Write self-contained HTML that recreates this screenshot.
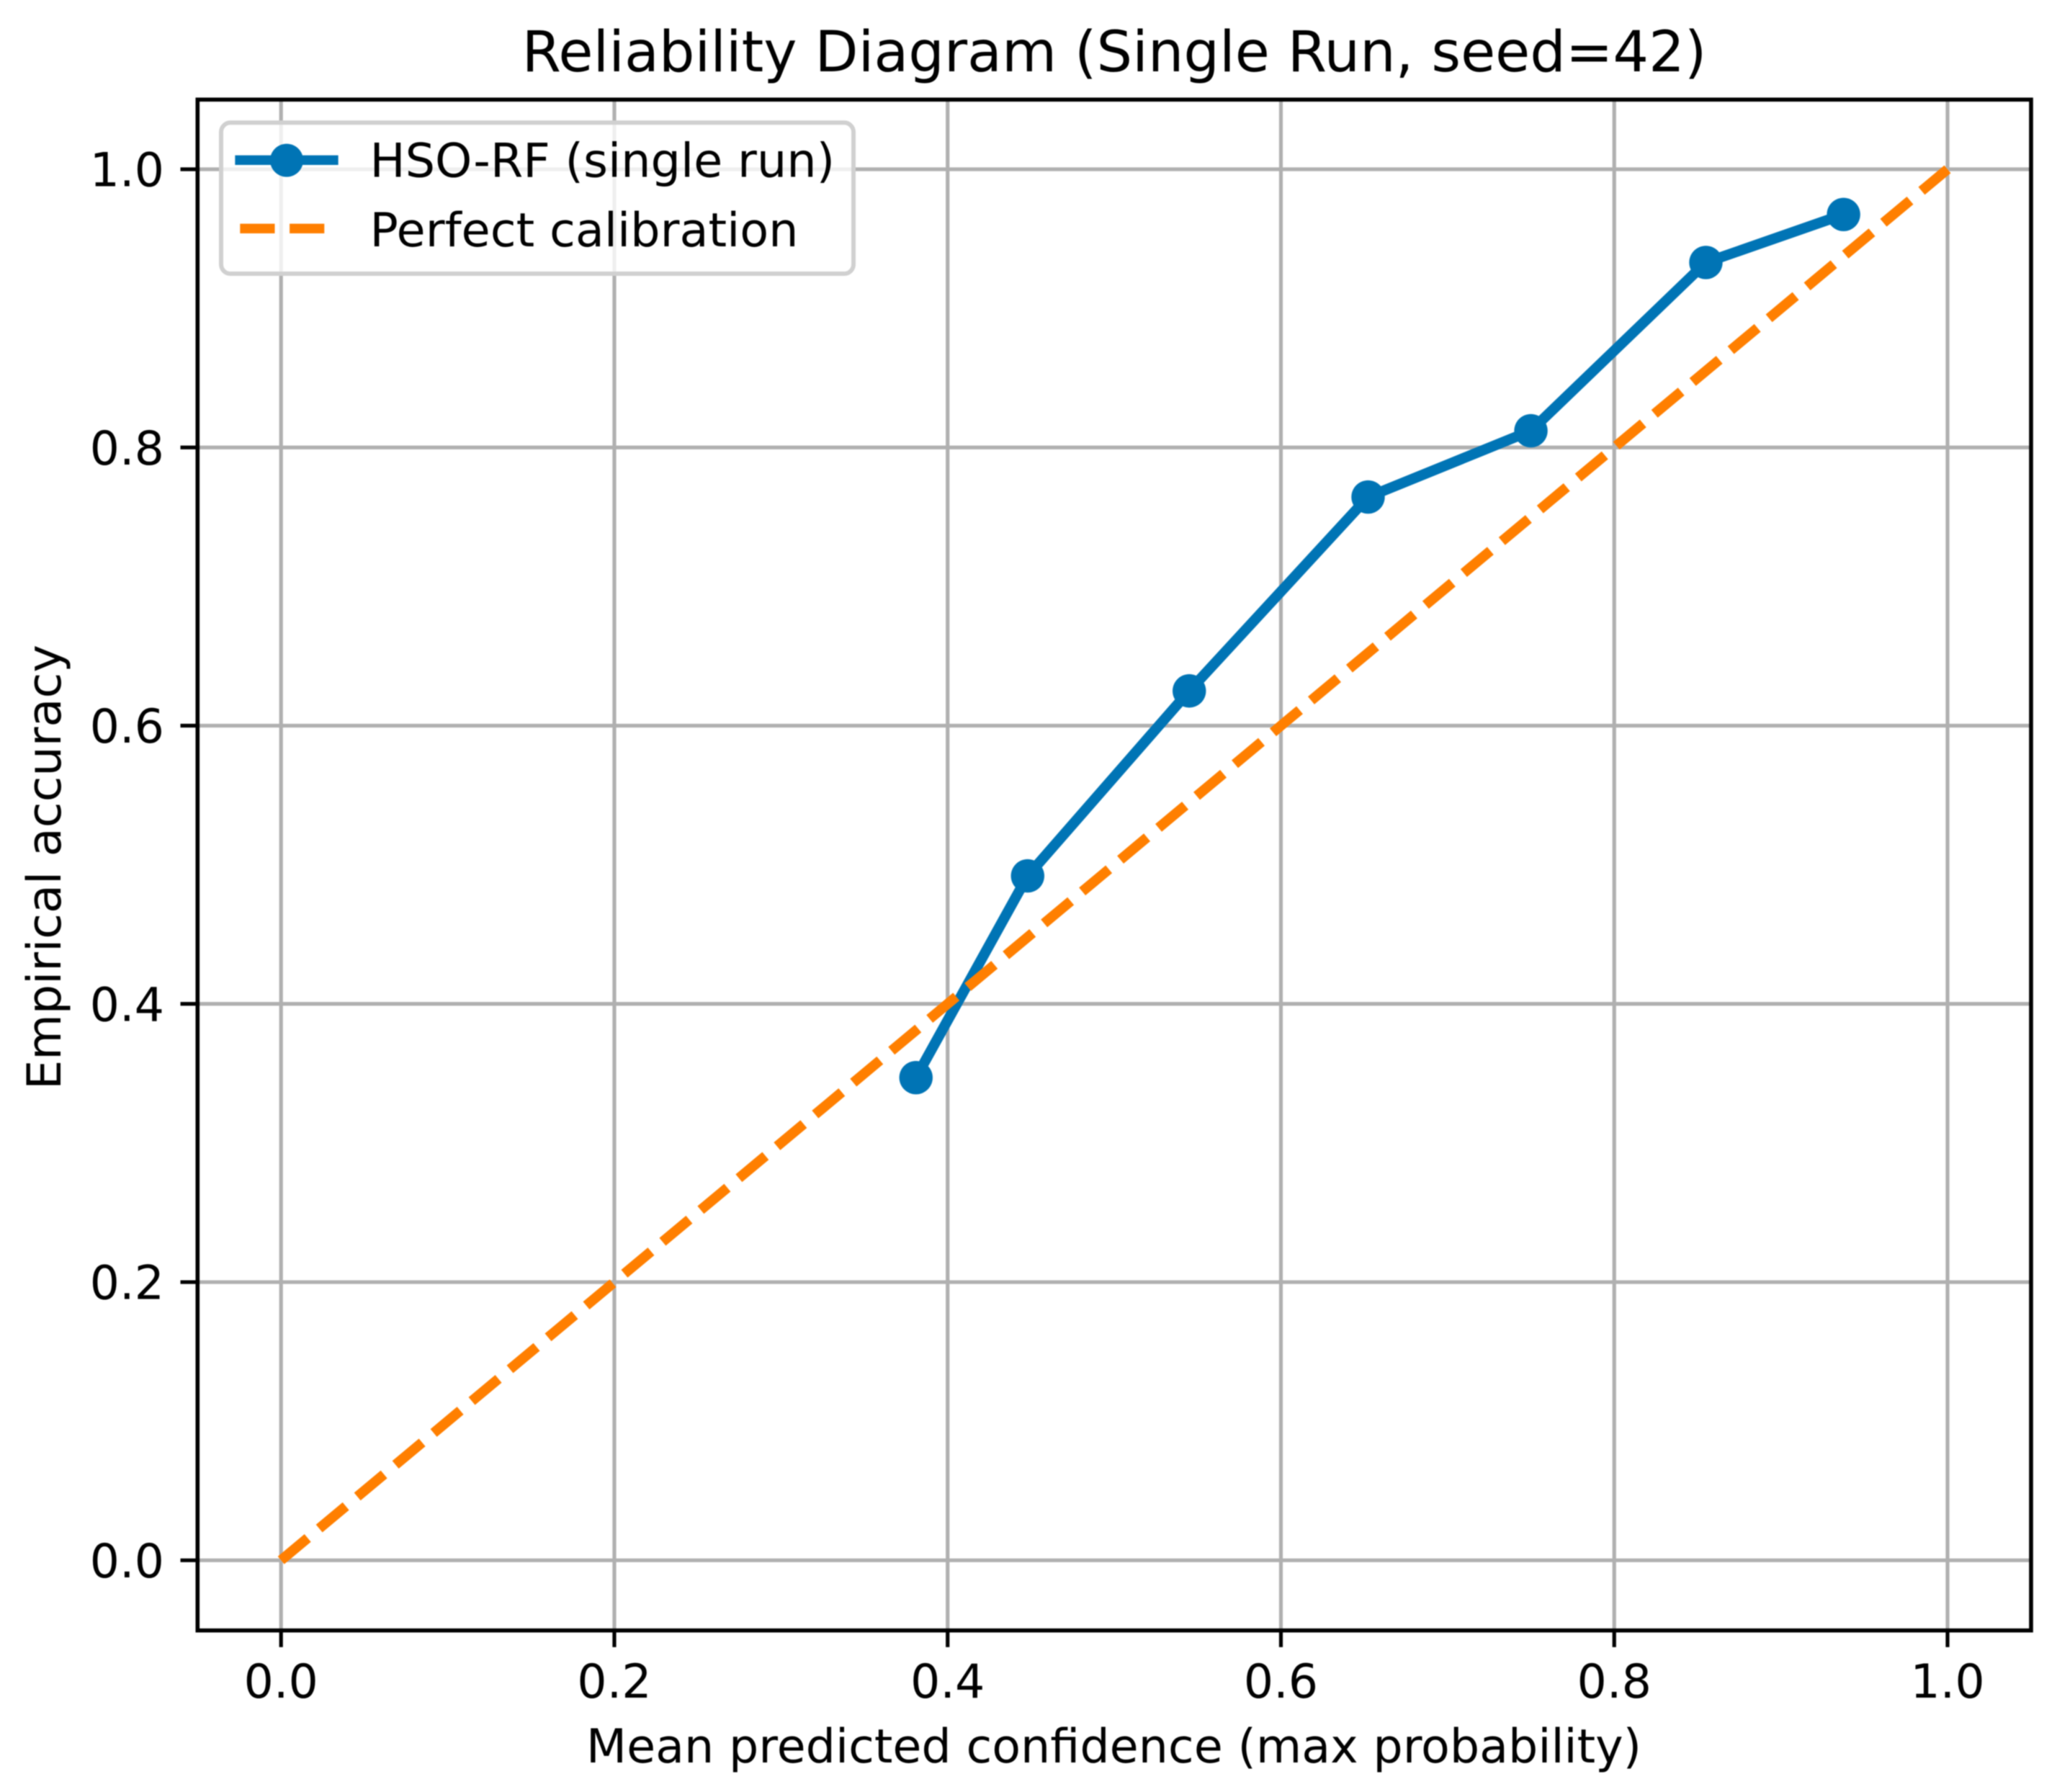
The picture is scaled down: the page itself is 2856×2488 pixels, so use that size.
<!DOCTYPE html>
<html lang="en">
<head>
<meta charset="utf-8">
<title>Reliability Diagram (Single Run, seed=42)</title>
<style>
html,body{margin:0;padding:0;background:#fff;}
svg{display:block;filter:blur(0.9px);}
text{font-family:"DejaVu Sans","Liberation Sans",sans-serif;fill:#000;}
</style>
</head>
<body>
<svg id="chart" xmlns="http://www.w3.org/2000/svg" width="2856" height="2488" viewBox="0 0 2856 2488">
  <rect x="0" y="0" width="2856" height="2488" fill="#fff"/>
  <rect x="274.3" y="138.3" width="2545.7" height="2125.4" fill="#fff"/>
  <g id="grid"></g>
  <g id="series"></g>
  <rect x="274.3" y="138.3" width="2545.7" height="2125.4" fill="none" stroke="#000" stroke-width="5.6"/>
  <g id="ticks"></g>
  <text x="1547" y="99" font-size="78.2" text-anchor="middle">Reliability Diagram (Single Run, seed=42)</text>
  <text x="1546.5" y="2447" font-size="65.1" text-anchor="middle">Mean predicted confidence (max probability)</text>
  <text x="0" y="0" font-size="65.2" text-anchor="middle" transform="translate(84 1204) rotate(-90)">Empirical accuracy</text>
  <g>
    <rect x="307" y="170.3" width="878" height="209.7" rx="13" ry="13" fill="#fff" fill-opacity="0.8" stroke="#d0d0d0" stroke-width="6"/>
    <g>
      <line x1="333" y1="222.3" x2="463" y2="222.3" stroke="#0074b5" stroke-width="13.3" stroke-linecap="square"/>
      <circle cx="398" cy="222.6" r="23" fill="#0074b5"/>
      <text x="513.5" y="245.5" font-size="65.3">HSO-RF (single run)</text>
    </g>
    <g>
      <line x1="333.3" y1="317.3" x2="463" y2="317.3" stroke="#ff7f00" stroke-width="13.3" stroke-dasharray="48.2 20.6"/>
      <text x="513.5" y="342" font-size="65.3">Perfect calibration</text>
    </g>
  </g>
</svg>
<script>
const xTicks = [0.0, 0.2, 0.4, 0.6, 0.8, 1.0];
const yTicks = [0.0, 0.2, 0.4, 0.6, 0.8, 1.0];
const xTickLabels = ["0.0", "0.2", "0.4", "0.6", "0.8", "1.0"];
const yTickLabels = ["0.0", "0.2", "0.4", "0.6", "0.8", "1.0"];
const meanConfidence = [0.381, 0.448, 0.545, 0.6523, 0.750, 0.855, 0.9376];
const empiricalAccuracy = [0.347, 0.492, 0.625, 0.7644, 0.812, 0.933, 0.9675];
const perfectX = [0, 1];
const perfectY = [0, 1];

const NS = 'http://www.w3.org/2000/svg';
function xScale(v) { return 390.2 + v * 2313.8; }
function yScale(v) { return 2166.3 - v * 1931.3; }
const plotLeft = xScale(-0.05), plotRight = xScale(1.05);
const plotTop = yScale(1.05), plotBottom = yScale(-0.05);

function mk(parent, tag, attrs) {
  const el = document.createElementNS(NS, tag);
  for (const k in attrs) el.setAttribute(k, attrs[k]);
  parent.appendChild(el);
  return el;
}
const grid = document.getElementById('grid');
const ticks = document.getElementById('ticks');
const series = document.getElementById('series');

xTicks.forEach(function (t, i) {
  const px = xScale(t);
  const g = mk(grid, 'line', {x1: px, x2: px, y1: plotTop, y2: plotBottom, stroke: '#b0b0b0', 'stroke-width': 5.2});
  
  
  const m = mk(ticks, 'line', {x1: px, x2: px, y1: plotBottom, y2: plotBottom + 24, stroke: '#000', 'stroke-width': 5.2});
  
  
  const l = mk(ticks, 'text', {x: px, y: 2357, 'font-size': 65, 'text-anchor': 'middle'});
  
  
  l.textContent = xTickLabels[i];
});

yTicks.forEach(function (t, i) {
  const py = yScale(t);
  const g = mk(grid, 'line', {x1: plotLeft, x2: plotRight, y1: py, y2: py, stroke: '#b0b0b0', 'stroke-width': 5.2});
  
  
  const m = mk(ticks, 'line', {x1: plotLeft - 24, x2: plotLeft, y1: py, y2: py, stroke: '#000', 'stroke-width': 5.2});
  
  
  const l = mk(ticks, 'text', {x: 228, y: py + 23.5, 'font-size': 65, 'text-anchor': 'end'});
  
  
  l.textContent = yTickLabels[i];
});

function pathFrom(xs, ys) {
  return xs.map(function (x, i) {
    return (i ? 'L' : 'M') + xScale(x).toFixed(2) + ' ' + yScale(ys[i]).toFixed(2);
  }).join(' ');
}

const hsoLine = mk(series, 'path', {d: pathFrom(meanConfidence, empiricalAccuracy), fill: 'none', stroke: '#0074b5', 'stroke-width': 14.5, 'stroke-linejoin': 'round', 'stroke-linecap': 'square'});



meanConfidence.forEach(function (x, i) {
  const pt = mk(series, 'circle', {cx: xScale(x), cy: yScale(empiricalAccuracy[i]), r: 23.2, fill: '#0074b5'});
  
  
});

const perfectLine = mk(series, 'path', {d: pathFrom(perfectX, perfectY), fill: 'none', stroke: '#ff7f00', 'stroke-width': 14, 'stroke-dasharray': '48.2 20.8'});


</script>
</body>
</html>
